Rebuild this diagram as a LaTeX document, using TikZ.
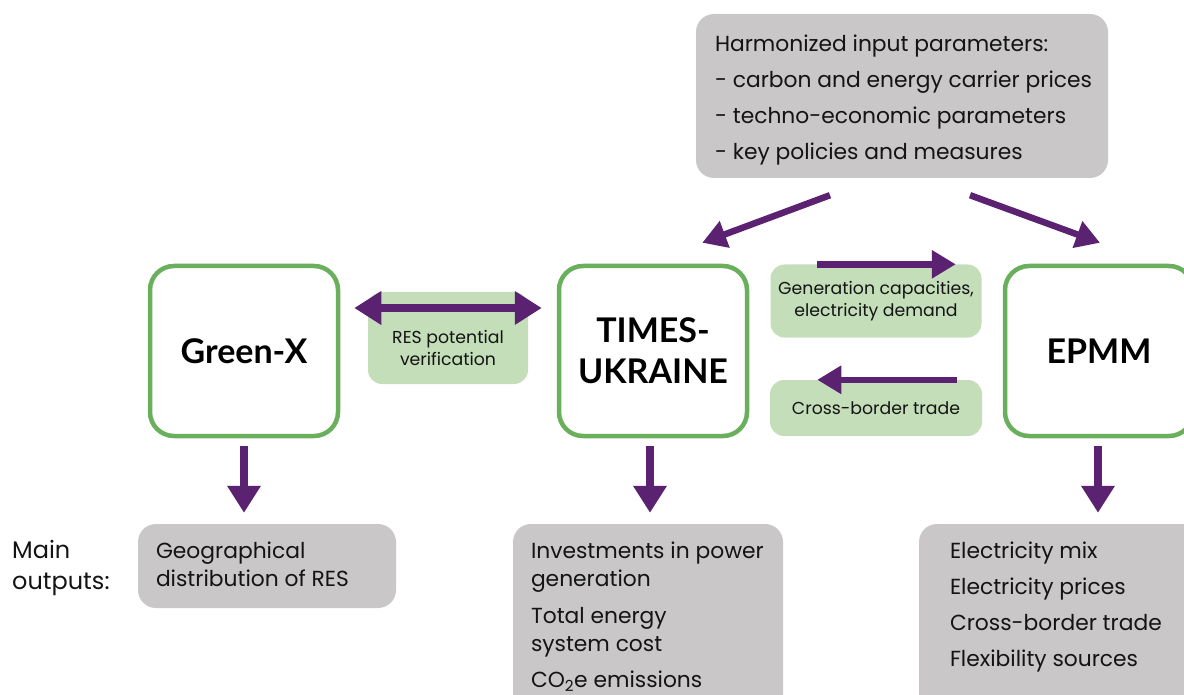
\documentclass[tikz,border=0pt]{standalone}
\usepackage{fontspec}
\setmainfont{Poppins}
\newfontfamily\ttlfont{Lato}
\usetikzlibrary{arrows.meta,positioning,calc}
\definecolor{ink}{HTML}{141414}
\definecolor{prp}{HTML}{5B2271}
\definecolor{grn}{HTML}{6AAF5C}
\definecolor{lgr}{HTML}{C3DEB9}
\definecolor{gry}{HTML}{C9C7C8}
\tikzset{
  mdl/.style ={draw=grn,line width=4.5pt,rounded corners=24pt,fill=white,minimum width=188pt,minimum height=170pt,align=center,font=\ttlfont\fontsize{34}{41}\selectfont\bfseries,text=black},
  lnk/.style ={fill=lgr,rounded corners=14pt,align=center,font=\fontsize{17.3}{22}\selectfont,text=ink},
  gbox/.style={fill=gry,rounded corners=18pt},
  txt/.style ={align=left,inner sep=0pt,font=\fontsize{21.8}{28}\selectfont,text=ink},
  a/.style   ={-{Triangle[length=27pt,width=32pt]},line width=8pt,prp},
  as/.style  ={-{Triangle[length=24pt,width=27pt]},line width=6.5pt,prp},
}
\begin{document}
\begin{tikzpicture}[x=1pt,y=-1pt]
\useasboundingbox (0,0) rectangle (1184,695);
\clip (0,0) rectangle (1184,695);

% ===== harmonized inputs (top) =====
\node[gbox,minimum width=412pt,minimum height=164pt] (par) at (902,96) {};
\node[txt,font=\fontsize{21.8}{36}\selectfont,below right=21pt and 19pt of par.north west] (partx)
  {Harmonized input parameters:\\- carbon and energy carrier prices\\- techno-economic parameters\\- key policies and measures};

% ===== models =====
\node[mdl] (gx) at (244,351) {Green-X};
\node[mdl] (tu) at (653,351) {TIMES-\\UKRAINE};
\node[mdl] (ep) at (1099,351) {EPMM};

% ===== links between models =====
\node[lnk,minimum width=160pt,minimum height=92pt] (res) at (448,338) {};
\node[lnk,fill=none,inner sep=0pt] (restx) at ($(res)+(0,10)$) {RES potential\\verification};
\node[lnk,minimum width=211pt,minimum height=73pt] (gen) at (876,301) {Generation capacities,\\electricity demand};
\node[lnk,minimum width=212pt,minimum height=56pt] (cbt) at (876,408) {Cross-border trade};
\draw[a,{Triangle[length=27pt,width=32pt]}-{Triangle[length=27pt,width=32pt]},shorten <=14pt,shorten >=15pt]
  ([yshift=43pt]gx.east) -- ([yshift=43pt]tu.west);
\draw[as,shorten <=68pt,shorten >=47pt] (tu.east|-gen.north) -- (ep.west|-gen.north);
\draw[as,shorten <=46pt,shorten >=68pt] (ep.west|-cbt.north) -- (tu.east|-cbt.north);
\draw[as] ($(par.south)+(-72,17)$) -- ($(tu.north east)+(-47,-21)$);
\draw[as] ($(par.south)+(68,17)$) -- ($(ep.north)+(1,-21)$);

% ===== main outputs (bottom) =====
\node[txt,anchor=north west,font=\fontsize{24}{31}\selectfont] (mo) at (12,540) {Main\\outputs:};
\node[gbox,minimum width=258pt,minimum height=84pt] (og) at (267,566) {};
\node[gbox,minimum width=270pt,minimum height=190pt] (ot) at (648,619) {};
\node[gbox,minimum width=290pt,minimum height=190pt] (oe) at (1064,619) {};
\node[txt,below right=18pt and 18pt of og.north west] (ogtx) {Geographical\\distribution of RES};
\node[txt,below right=18pt and 18pt of ot.north west] (ottx)
  {Investments in power\\generation\\[8.5pt]Total energy\\system cost\\[8pt]CO\textsubscript{2}e emissions};
\node[txt,font=\fontsize{21.8}{36}\selectfont,below right=18pt and 31pt of oe.north west] (oetx)
  {Electricity mix\\Electricity prices\\Cross-border trade\\Flexibility sources};
\draw[a] ([yshift=-8pt]gx.south) -- ([yshift=11pt]gx.south|-og.north);
\draw[a] ([xshift=-3pt,yshift=-8pt]tu.south) -- ([xshift=-3pt,yshift=11pt]tu.south|-ot.north);
\draw[a] ([xshift=-1pt,yshift=-8pt]ep.south) -- ([xshift=-1pt,yshift=11pt]ep.south|-oe.north);
\end{tikzpicture}
\end{document}
